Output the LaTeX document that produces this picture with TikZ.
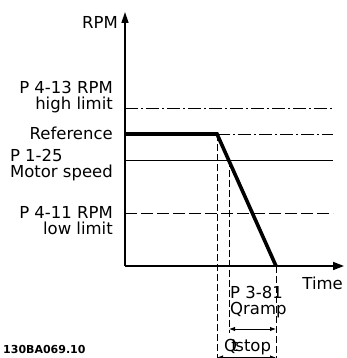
\documentclass[tikz,border=0pt]{standalone}
\usepackage{fontspec}
\setmainfont{DejaVu Sans}
\usetikzlibrary{arrows.meta,positioning}
\tikzset{
  axisline/.style={line width=1.6pt},
  rampline/.style={line width=3.6pt},
  dashdot/.style={line width=0.9pt, dash pattern=on 13pt off 3pt on 2pt off 3pt},
  limline/.style={line width=0.9pt, dash pattern=on 12pt off 4pt},
  guide/.style={line width=0.8pt, dash pattern=on 7pt off 3pt},
  lbl/.style={inner sep=0pt, font=\fontsize{16.5}{16}\selectfont},
  dim/.style={line width=0.9pt, {Latex[length=6pt,width=4.5pt]}-{Latex[length=6pt,width=4.5pt]}},
}
\begin{document}
\begin{tikzpicture}[x=1pt, y=-1pt]
  \useasboundingbox (0,0) rectangle (347,358);
  % axes
  \coordinate (O) at (125,266);
  \coordinate (ytop) at (125,12);
  \coordinate (xend) at (344,266);
  \draw[axisline, -{Triangle[length=11pt,width=7pt]}] (O) -- (ytop);
  \draw[axisline, -{Triangle[length=11pt,width=8pt]}] (O) -- (xend);
  \node[lbl, anchor=east] (rpm) at (118,22) {RPM};
  \node[lbl, anchor=east] (timel) at (343,283) {Time};
  % levels
  \coordinate (hiA) at (125,108);  \coordinate (hiB) at (333,108);
  \coordinate (refA) at (125,134); \coordinate (refB) at (333,134);
  \coordinate (motA) at (125,160); \coordinate (motB) at (333,160);
  \coordinate (loA) at (125,213);  \coordinate (loB) at (333,213);
  \coordinate (rs) at (217,134);
  \coordinate (re) at (276,266);
  \coordinate (rm) at (229,160);
  \draw[dashdot] (hiA) -- (hiB);
  \draw[dashdot] (rs) -- (refB);
  \draw[line width=0.9pt] (motA) -- (motB);
  \draw[limline] (loA) -- (loB);
  \draw[rampline] (refA) -- (rs) -- (re);
  \node[lbl, anchor=east, align=right] (hilim) at (113,97) {P 4-13 RPM\\high limit};
  \node[lbl, anchor=east] (refl) at (113,133) {Reference};
  \node[lbl, anchor=east, align=left] (motl) at (113,165) {P 1-25\\Motor speed};
  \node[lbl, anchor=east, align=right] (lolim) at (113,221) {P 4-11 RPM\\low limit};
  % ramp times
  \coordinate (g1) at (217,360);
  \coordinate (g2) at (229,333);
  \coordinate (g3) at (276,360);
  \draw[guide] (rs) -- (g1);
  \draw[guide] (rm) -- (g2);
  \draw[guide] (re) -- (g3);
  \draw[dim] (229,329) -- (276,329);
  \draw[dim] (217,357.5) -- (276,357.5);
  \node[lbl, anchor=west, align=left] (qramp) at (230,302) {P 3-81\\Qramp};
  \node[lbl, anchor=west] (qstop) at (224,347) {Q\kern-.35em t\kern-.15em stop};
  \node[inner sep=0pt, anchor=west, font=\fontsize{11}{11}\bfseries] (code) at (3,349) {130BA069.10};
\end{tikzpicture}
\end{document}
